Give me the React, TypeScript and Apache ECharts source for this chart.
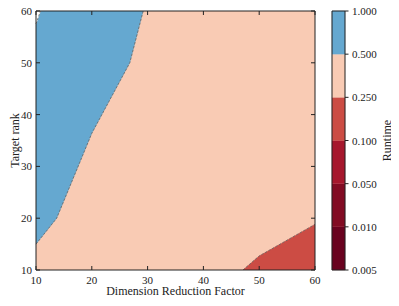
import React, { useEffect, useRef } from "react";
import * as echarts from "echarts";

// Region polygons (x = Dimension Reduction Factor, y = Target rank)
const peachX = [10, 60, 60, 10];
const peachY = [10, 10, 60, 60];
const blueX = [10, 13.7, 20, 26.8, 29.2, 10.8, 10];
const blueY = [15, 20, 36.4, 50, 60, 60, 57.5];
const whiteX = [10, 10.8, 10];
const whiteY = [57.5, 60, 60];
const redX = [47.1, 50, 60, 60];
const redY = [10, 12.7, 18.8, 10];

// Contour lines
const contourBlueX = [10, 13.7, 20, 26.8, 29.2];
const contourBlueY = [15, 20, 36.4, 50, 60];
const contourWhiteX = [10, 10.8];
const contourWhiteY = [57.5, 60];
const contourRedX = [47.1, 50, 60];
const contourRedY = [10, 12.7, 18.8];

// Ticks
const xTicks = [10, 20, 30, 40, 50, 60];
const yTicks = [10, 20, 30, 40, 50, 60];

// Colorbar
const levelLabels = ["0.005", "0.010", "0.050", "0.100", "0.250", "0.500", "1.000"];
const levelColors = ["#69021f", "#820b23", "#a6172d", "#cc4c44", "#f9cbb4", "#65a8d0"];

const FONT = "'Liberation Serif', 'Times New Roman', serif";
const INK = "#222";

export default function App() {
  const ref = useRef<HTMLDivElement>(null);
  useEffect(() => {
    const chart = echarts.init(ref.current!, null, { renderer: "svg" });
    const regions = [
      { xs: peachX, ys: peachY, color: "#f9cbb4" },
      { xs: blueX, ys: blueY, color: "#65a8d0" },
      { xs: whiteX, ys: whiteY, color: "#ffffff" },
      { xs: redX, ys: redY, color: "#cc4c44" },
    ];
    const contours = [
      [contourBlueX, contourBlueY],
      [contourWhiteX, contourWhiteY],
      [contourRedX, contourRedY],
    ];
    const labelStyle = { fontFamily: FONT, fontSize: 11, color: INK };
    const nameStyle = { fontFamily: FONT, fontSize: 12, color: INK };
    const hidden = { show: false };
    const option: any = {
      animation: false,
      backgroundColor: "#fff",
      textStyle: { fontFamily: FONT },
      grid: [
        { left: 36, top: 11, width: 279, height: 259, containLabel: false, outerBoundsMode: "none" },
        { left: 332, top: 11, width: 13, height: 259, containLabel: false, outerBoundsMode: "none" },
      ],
      xAxis: [
        {
          type: "value", gridIndex: 0, min: 10, max: 60, interval: 10,
          axisLine: hidden, splitLine: hidden, axisTick: hidden,
          axisLabel: { ...labelStyle, margin: 4 },
          name: "Dimension Reduction Factor", nameLocation: "middle", nameGap: 15, nameMoveOverlap: false,
          nameTextStyle: nameStyle,
        },
        { type: "value", gridIndex: 1, min: 0, max: 1, show: false },
      ],
      yAxis: [
        {
          type: "value", gridIndex: 0, min: 10, max: 60, interval: 10,
          axisLine: hidden, splitLine: hidden, axisTick: hidden,
          axisLabel: { ...labelStyle, margin: 4 },
          name: "Target rank", nameLocation: "middle", nameGap: 15, nameMoveOverlap: false,
          nameTextStyle: nameStyle,
        },
        {
          type: "value", gridIndex: 1, min: 0, max: 6, interval: 1, position: "right",
          axisLine: hidden, splitLine: hidden, axisTick: hidden,
          axisLabel: { ...labelStyle, margin: 7, formatter: (v: number) => levelLabels[Math.round(v)] },
          name: "Runtime", nameLocation: "middle", nameGap: 36, nameRotate: 90, nameMoveOverlap: false,
          nameTextStyle: nameStyle,
        },
      ],
      series: [
        {
          type: "custom", xAxisIndex: 0, yAxisIndex: 0, clip: true,
          data: regions.map((_, i) => [i]),
          renderItem: (params: any, api: any) => {
            const r = regions[params.dataIndex];
            const pts = r.xs.map((x, k) => api.coord([x, r.ys[k]]));
            return { type: "polygon", shape: { points: pts }, style: { fill: r.color, stroke: r.color, lineWidth: 0.5 } };
          },
          z: 1,
        },
        ...contours.map(([xs, ys]) => ({
          type: "line", xAxisIndex: 0, yAxisIndex: 0, symbol: "none", silent: true,
          data: xs.map((x, k) => [x, ys[k]]),
          lineStyle: { color: "#666", width: 0.8, type: [2.5, 1.5] },
          z: 3,
        })),
        // main frame
        {
          type: "line", xAxisIndex: 0, yAxisIndex: 0, symbol: "none", silent: true, clip: false,
          data: [[10, 10], [60, 10], [60, 60], [10, 60], [10, 10]],
          lineStyle: { color: INK, width: 1 },
          z: 6,
        },
        // inward ticks on all four sides
        {
          type: "custom", xAxisIndex: 0, yAxisIndex: 0, clip: false, silent: true,
          data: xTicks.map((v, i) => [v, yTicks[i]]),
          renderItem: (params: any, api: any) => {
            const xv = api.value(0);
            const yv = api.value(1);
            const b = api.coord([xv, 10]);
            const t = api.coord([xv, 60]);
            const l = api.coord([10, yv]);
            const r = api.coord([60, yv]);
            const st = { stroke: INK, lineWidth: 1 };
            return {
              type: "group",
              children: [
                { type: "line", shape: { x1: b[0], y1: b[1], x2: b[0], y2: b[1] - 4 }, style: st },
                { type: "line", shape: { x1: t[0], y1: t[1], x2: t[0], y2: t[1] + 4 }, style: st },
                { type: "line", shape: { x1: l[0], y1: l[1], x2: l[0] + 4, y2: l[1] }, style: st },
                { type: "line", shape: { x1: r[0], y1: r[1], x2: r[0] - 4, y2: r[1] }, style: st },
              ],
            };
          },
          z: 7,
        },
        // colorbar bins
        {
          type: "custom", xAxisIndex: 1, yAxisIndex: 1,
          data: levelColors.map((_, i) => [i]),
          renderItem: (params: any, api: any) => {
            const i = params.dataIndex;
            const p0 = api.coord([0, i]);
            const p1 = api.coord([1, i + 1]);
            return {
              type: "rect",
              shape: { x: p0[0], y: p1[1], width: p1[0] - p0[0], height: p0[1] - p1[1] },
              style: { fill: levelColors[i], stroke: levelColors[i], lineWidth: 0.3 },
            };
          },
          z: 1,
        },
        // colorbar frame
        {
          type: "line", xAxisIndex: 1, yAxisIndex: 1, symbol: "none", silent: true, clip: false,
          data: [[0, 0], [1, 0], [1, 6], [0, 6], [0, 0]],
          lineStyle: { color: INK, width: 1 },
          z: 6,
        },
        // colorbar outward ticks
        {
          type: "custom", xAxisIndex: 1, yAxisIndex: 1, clip: false, silent: true,
          data: levelLabels.map((_, i) => [1, i]),
          renderItem: (params: any, api: any) => {
            const p = api.coord([1, api.value(1)]);
            return { type: "line", shape: { x1: p[0], y1: p[1], x2: p[0] + 3.5, y2: p[1] }, style: { stroke: INK, lineWidth: 1 } };
          },
          z: 7,
        },
      ],
    };
    chart.setOption(option);
    return () => chart.dispose();
  }, []);
  return <div ref={ref} style={{ width: 399, height: 306, margin: -8 }} />;
}
